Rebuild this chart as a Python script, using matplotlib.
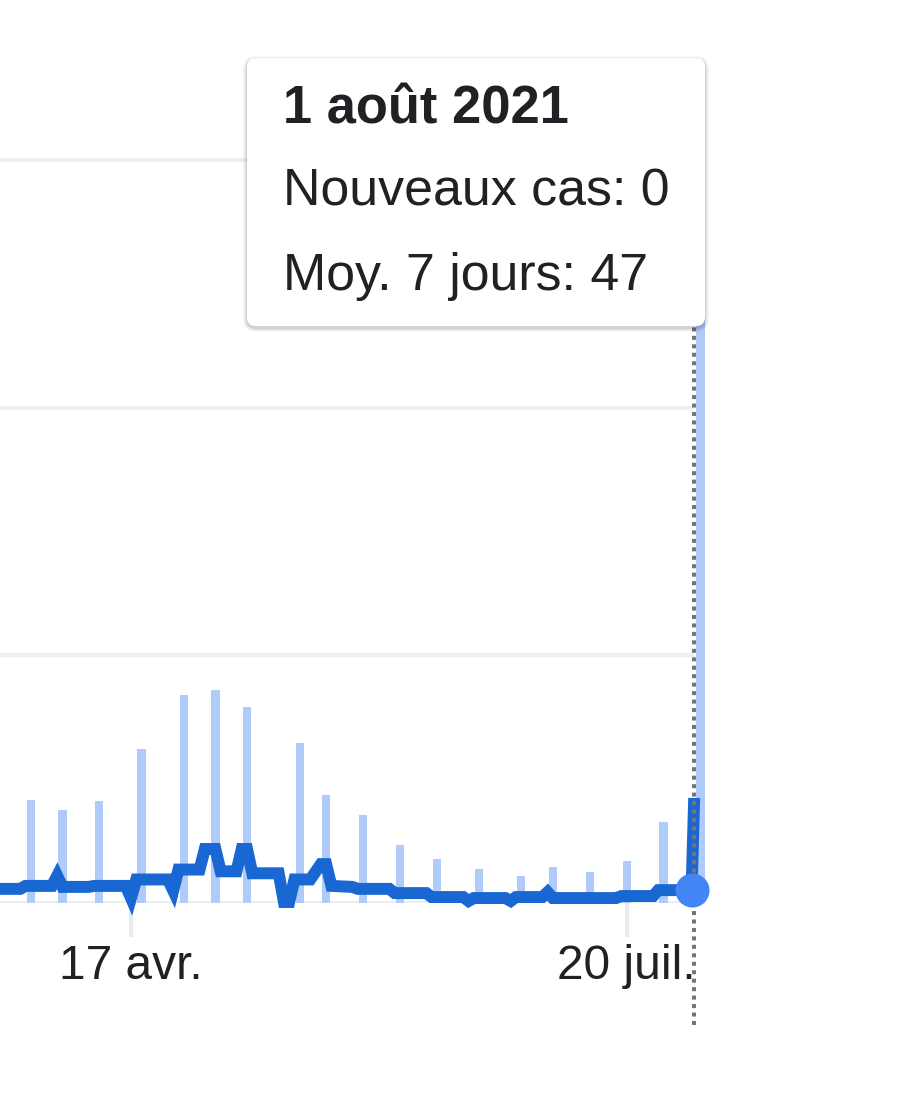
import matplotlib
matplotlib.use("Agg")
import matplotlib.pyplot as plt
from matplotlib.patches import FancyBboxPatch
from matplotlib.transforms import IdentityTransform

plt.rcParams["font.family"] = ["Liberation Sans", "DejaVu Sans"]

# Data (x = days after 17 April 2021, y = cases)
bar_days = [-19, -13, -6, 2, 10, 16, 22, 32, 37, 44, 51, 58, 66, 74, 80, 87, 94, 101, 108]
bar_cases = [41.6, 37.5, 41.2, 62.2, 84, 86.1, 79.3, 64.7, 43.6, 35.5, 23.3, 17.8,
             13.7, 11, 14.4, 12.4, 17.1, 32.8, 260]

avg_days = [-25, -21, -20, -15, -14, -13, -8, -7, -1, 0, 1, 7, 8, 9, 13, 14, 16, 17,
            20, 21, 22, 23, 28, 29, 30, 31, 34, 36, 37, 38, 42, 43, 49, 50, 56, 57,
            63, 64, 65, 71, 72, 73, 78, 79, 80, 92, 93, 99, 100, 106.3, 106.8]
avg_cases = [5.7, 5.7, 6.9, 6.9, 11.0, 6.5, 6.5, 6.9, 6.9, 2.0, 9.5, 9.5, 5.0, 13.5,
             13.5, 21.8, 21.8, 12.8, 12.8, 21.8, 21.8, 12.0, 12.0, 0.4, 0.4, 9.5, 9.5,
             15.7, 15.7, 6.9, 6.5, 5.7, 5.7, 4.0, 4.0, 2.4, 2.4, 0.8, 2.0, 2.0, 0.8,
             2.4, 2.4, 4.4, 2.0, 2.0, 2.8, 2.8, 5.2, 5.2, 42.4]

tick_days = [0, 94]
tick_labels = ["17 avr.", "20 juil."]
grid_values = [0, 100, 200, 300]

hover_day = 106.8
marker_day = 106.3
marker_value = 5.2

tooltip_title = "1 août 2021"
tooltip_lines = ["Nouveaux cas: 0", "Moy. 7 jours: 47"]

# Layout (pixels)
W, H = 922, 1100
px_per_day = (626.7 - 131) / 94
px_per_case = 2.477
x0_px = 131
base_px = 903

fig = plt.figure(figsize=(W / 100, H / 100), dpi=100)
ax = fig.add_axes([0, (H - base_px) / H, 1, base_px / H])
ax.set_xlim(-x0_px / px_per_day, (W - x0_px) / px_per_day)
ax.set_ylim(0, base_px / px_per_case)
for s in ax.spines.values():
    s.set_visible(False)
ax.set_yticks([])

ax.hlines(grid_values, ax.get_xlim()[0], hover_day, color="#eeeeee", lw=2.9, zorder=1)

ax.bar(bar_days, bar_cases, width=1.57, color="#aecbfa", zorder=2, clip_on=False)

ax.plot(avg_days, avg_cases, color="#1967d2", lw=8.6, solid_joinstyle="miter",
        solid_capstyle="butt", zorder=3, clip_on=False)

ax.vlines(hover_day, -49.3, 300, colors="#757575", lw=2.9, linestyles=(0, (1, 1.1)),
          zorder=4, clip_on=False)

ax.plot([marker_day], [marker_value], "o", ms=24.5, color="#4285f4", mec="none",
        zorder=5, clip_on=False)

ax.set_xticks(tick_days)
ax.set_xticklabels(tick_labels)
ax.tick_params(axis="x", length=24.5, width=2.9, color="#e8eaed", pad=5,
               labelsize=34.5, labelcolor="#202124")

# Tooltip
tr = IdentityTransform()
bx, by, bw, bh = 247, H - 326, 458, 268
for i, a in enumerate([0.06, 0.05, 0.04, 0.03]):
    e = i + 1
    fig.add_artist(FancyBboxPatch((bx - e, by - 2 - e), bw + 2 * e, bh + 2 * e,
                                  boxstyle="round,pad=0,rounding_size=%d" % (9 + e),
                                  transform=tr, facecolor="black", edgecolor="none",
                                  alpha=a, zorder=9))
fig.add_artist(FancyBboxPatch((bx, by), bw, bh, boxstyle="round,pad=0,rounding_size=9",
                              transform=tr, facecolor="white", edgecolor="none", zorder=10))

fig.text(283 / W, 1 - 123 / H, tooltip_title, fontsize=37.8, fontweight="bold",
         color="#202124", va="baseline", ha="left", zorder=11)
for line, yb in zip(tooltip_lines, [205, 290]):
    fig.text(283 / W, 1 - yb / H, line, fontsize=37.4, color="#202124",
             va="baseline", ha="left", zorder=11)

fig.savefig("out.png", dpi=100)
